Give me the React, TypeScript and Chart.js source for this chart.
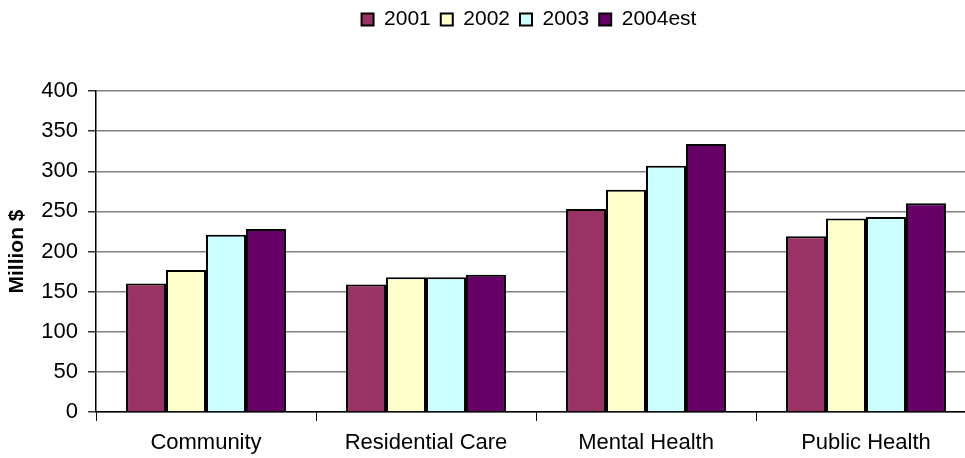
import React, { useEffect, useRef } from "react";
import { Chart, registerables } from "chart.js";

Chart.register(...registerables);

const categories = ["Community", "Residential Care", "Mental Health", "Public Health"];
const seriesLabels = ["2001", "2002", "2003", "2004est"];
const values2001 = [160, 159, 253, 219];
const values2002 = [177, 168, 277, 241];
const values2003 = [221, 168, 307, 243];
const values2004 = [228, 171, 334, 260];
const seriesColors = ["#993366", "#FFFFCC", "#CCFFFF", "#660066"];
const yTickMin = 0;
const yTickMax = 400;
const yTickStep = 50;

const FONT = "Arial, 'Liberation Sans', sans-serif";

// Gives the legend the whole band above the plot and nudges it sideways.
const legendPlacement = {
  id: "legendPlacement",
  beforeInit(chart: any) {
    const legend = chart.legend;
    if (!legend) return;
    const fit = legend.fit;
    legend.fit = function () {
      fit.call(this);
      this.height = 91;
    };
  },
  afterLayout(chart: any) {
    const legend = chart.legend;
    if (!legend) return;
    legend.left += 41;
    legend.right += 41;
    legend.top -= 1;
  },
};

const whiteBackground = {
  id: "whiteBackground",
  beforeDraw(chart: any) {
    const ctx = chart.ctx;
    ctx.save();
    ctx.fillStyle = "#ffffff";
    ctx.fillRect(0, 0, chart.width, chart.height);
    ctx.restore();
  },
};

export default function App() {
  const canvasRef = useRef<HTMLCanvasElement | null>(null);

  useEffect(() => {
    const canvas = canvasRef.current;
    if (!canvas) return;
    const seriesValues = [values2001, values2002, values2003, values2004];
    const chart = new Chart(canvas, {
      type: "bar",
      data: {
        labels: categories,
        datasets: seriesLabels.map((label, i) => ({
          label,
          data: seriesValues[i],
          backgroundColor: seriesColors[i],
          borderColor: "#000000",
          borderWidth: 2,
          categoryPercentage: 0.727,
          barPercentage: 1,
        })),
      },
      options: {
        responsive: false,
        animation: false,
        layout: { padding: { left: 0, right: 24, top: 0, bottom: 0 } },
        plugins: {
          tooltip: { enabled: false },
          legend: {
            position: "top",
            labels: {
              font: { family: FONT, size: 21 },
              color: "#000000",
              boxWidth: 12,
              boxHeight: 12,
              padding: 10,
            },
          },
        },
        scales: {
          x: {
            grid: {
              drawOnChartArea: false,
              drawTicks: true,
              tickLength: 9,
              color: "#000000",
              offset: true,
            },
            border: { color: "#000000", width: 1.5 },
            ticks: {
              font: { family: FONT, size: 22 },
              color: "#000000",
              padding: 9,
              maxRotation: 0,
            },
            afterFit(scale: any) {
              scale.height = 46;
            },
          },
          y: {
            min: yTickMin,
            max: yTickMax,
            grid: {
              color: "#808080",
              lineWidth: 1.5,
              tickLength: 8,
              tickColor: "#333333",
            },
            border: { color: "#000000", width: 1.5 },
            ticks: {
              stepSize: yTickStep,
              font: { family: FONT, size: 22 },
              color: "#000000",
              padding: 10,
            },
            title: {
              display: true,
              text: "Million $",
              font: { family: FONT, size: 21, weight: "bold" },
              color: "#000000",
              padding: { top: 5, bottom: 0 },
            },
            afterFit(scale: any) {
              scale.width = 96;
            },
          },
        },
      },
      plugins: [legendPlacement, whiteBackground],
    });
    return () => chart.destroy();
  }, []);

  return (
    <div
      style={{
        position: "fixed",
        left: 0,
        top: 0,
        width: 965,
        height: 458,
        overflow: "hidden",
        background: "#ffffff",
      }}
    >
      <canvas ref={canvasRef} width={1000} height={458} style={{ display: "block" }} />
    </div>
  );
}
